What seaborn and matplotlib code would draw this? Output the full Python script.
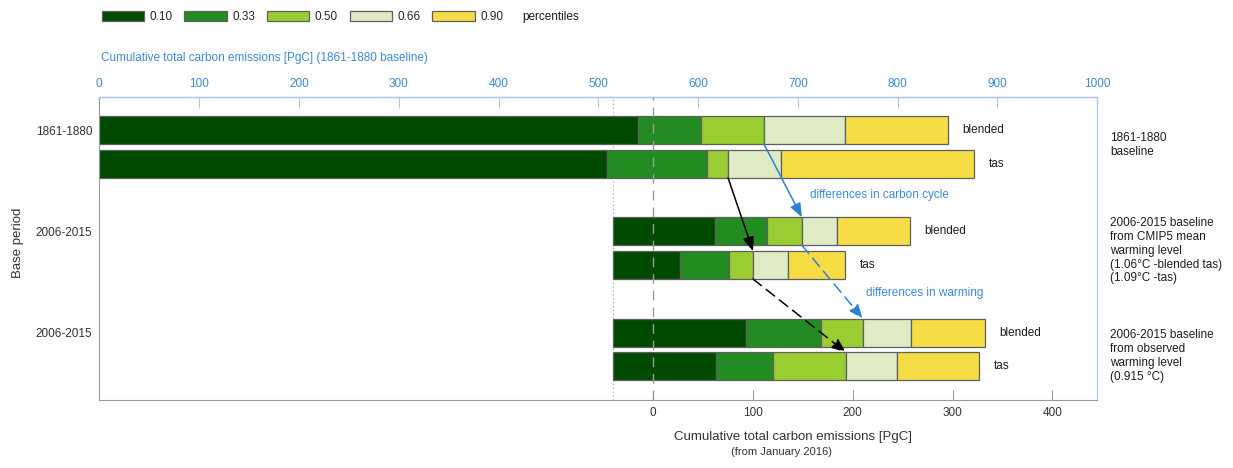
import numpy as np
import pandas as pd
import matplotlib
matplotlib.use("Agg")
import matplotlib.pyplot as plt
from matplotlib.patches import Patch
import seaborn as sns

# ---------------- data ----------------
percentile_labels = ["0.10", "0.33", "0.50", "0.66", "0.90"]
row_names = ["blended", "tas", "blended", "tas", "blended", "tas"]
base_labels = ["1861-1880", "2006-2015", "2006-2015"]
group_notes = [
    "1861-1880\nbaseline",
    "2006-2015 baseline\nfrom CMIP5 mean\nwarming level\n(1.06\u00b0C -blended tas)\n(1.09\u00b0C -tas)",
    "2006-2015 baseline\nfrom observed\nwarming level\n(0.915 \u00b0C)",
]
# bar starts and percentile values, PgC from January 2016
row_start = [-555, -555, -40, -40, -40, -40]
p10 = [-15, -46, 62, 27, 93, 63]
p33 = [48, 54, 114, 76, 168, 120]
p50 = [111, 75, 149, 100, 210, 193]
p66 = [192, 128, 184, 135, 258, 244]
p90 = [295, 321, 257, 192, 332, 326]
baseline_offset = 555  # 1861-1880 baseline axis = value from Jan 2016 + offset
top_ticks = list(range(0, 1001, 100))
bottom_ticks = [0, 100, 200, 300, 400]
note_texts = ["differences in carbon cycle", "differences in warming"]

# ---------------- style ----------------
sns.set_style("white")
plt.rcParams["font.family"] = ["Liberation Sans", "DejaVu Sans"]
plt.rcParams["font.size"] = 8.5

colors = ["#004a00", "#228b22", "#9acd32", "#deebc5", "#f6dc45"]
edge = "#5f5f5f"
blue_spine = "#a9c7ea"
blue_text = "#3d8ad6"
blue_arrow = "#2f80d0"
txt = "#1e1e1e"
grey = "#9a9a9a"

fig = plt.figure(figsize=(12.33, 4.68), dpi=100)
ax = fig.add_axes([0.08054, 0.14530, 0.80940, 0.64744])

ypos = np.array([0, 1, 3, 4, 6, 7])
bar_h = 0.83
bounds = [row_start, p10, p33, p50, p66, p90]
for k in range(5):
    left = np.array(bounds[k], dtype=float)
    right = np.array(bounds[k + 1], dtype=float)
    df = pd.DataFrame({"pos": ypos, "width": right - left})
    sns.barplot(data=df, x="width", y="pos", orient="y", native_scale=True,
                left=left, color=colors[k], edgecolor=edge, linewidth=0.9,
                width=bar_h, errorbar=None, saturation=1, ax=ax, zorder=2)

ax.set_xlim(-555, 445)
ax.set_ylim(8.0, -0.98)
ax.set_xlabel("")
ax.set_ylabel("")

# reference lines
ax.axvline(0, color=grey, lw=1.0, ls=(0, (7, 5)), zorder=5)
ax.axvline(row_start[2], color=grey, lw=0.8, ls=(0, (1, 2.5)), zorder=1)

# row labels
for i, name in enumerate(row_names):
    ax.annotate(name, xy=(p90[i], ypos[i]), xytext=(15, 0),
                textcoords="offset pixels", va="center", ha="left",
                color=txt, fontsize=8.5)

# group notes at right
for note, yv in zip(group_notes, [0.45, 3.58, 6.70]):
    ax.annotate(note, xy=(1.013, yv), xycoords=("axes fraction", "data"),
                va="center", ha="left", color=txt, fontsize=8.5,
                annotation_clip=False)

# arrows between medians
half = bar_h / 2
arrow_specs = [(0, 2, blue_arrow, "-"), (1, 3, "black", "-"),
               (2, 4, blue_arrow, (0, (7, 4))), (3, 5, "black", (0, (7, 4)))]
for a, b, c, ls in arrow_specs:
    ax.annotate("", xy=(p50[b], ypos[b] - half), xytext=(p50[a], ypos[a] + half),
                arrowprops=dict(arrowstyle="-|>,head_length=0.7,head_width=0.28",
                                color=c, lw=1.1, linestyle=ls,
                                shrinkA=0, shrinkB=0, mutation_scale=12),
                zorder=6)

ax.text(157, 1.93, note_texts[0], color=blue_text, va="center", ha="left", fontsize=8.5)
ax.text(213, 4.84, note_texts[1], color=blue_text, va="center", ha="left", fontsize=8.5)

# axes styling
ax.set_xticks(bottom_ticks)
ax.tick_params(axis="x", direction="in", length=7, width=0.8, color=grey,
               labelcolor="#333333", labelsize=8.5, pad=5, top=False, bottom=True)
ax.set_yticks([0, 3, 6])
ax.set_yticklabels(base_labels)
ax.tick_params(axis="y", length=0, pad=5, labelsize=8.5, labelcolor="#333333")
for s in ["left", "bottom"]:
    ax.spines[s].set_color(grey)
    ax.spines[s].set_linewidth(0.8)
for s in ["right", "top"]:
    ax.spines[s].set_color(blue_spine)
    ax.spines[s].set_linewidth(0.9)

secax = ax.secondary_xaxis("top", functions=(lambda x: x + baseline_offset,
                                             lambda x: x - baseline_offset))
secax.set_xticks(top_ticks)
secax.tick_params(direction="in", length=8, width=0.8, color=blue_spine,
                  labelcolor=blue_text, labelsize=8.5, pad=5)
secax.spines["top"].set_color(blue_spine)
secax.spines["top"].set_linewidth(0.9)

# axis titles
ax.annotate("Cumulative total carbon emissions [PgC] (1861-1880 baseline)",
            xy=(0.002, 1 - 58 / 468), xycoords=("axes fraction", "figure fraction"),
            ha="left", va="center", color=blue_text, fontsize=8.5, annotation_clip=False)
ax.annotate("Cumulative total carbon emissions [PgC]",
            xy=(140, 1 - 437 / 468), xycoords=("data", "figure fraction"),
            ha="center", va="center", color="#333333", fontsize=9.5, annotation_clip=False)
ax.annotate("(from January 2016)",
            xy=(129, 1 - 452 / 468), xycoords=("data", "figure fraction"),
            ha="center", va="center", color="#333333", fontsize=8, annotation_clip=False)
fig.text(18 / 1233, 1 - 243 / 468, "Base period", rotation=90, ha="center",
         va="center", color="#333333", fontsize=9.5)

# legend
handles = [Patch(facecolor=c, edgecolor=edge, linewidth=0.9, label=l)
           for c, l in zip(colors, percentile_labels)]
fig.legend(handles=handles, loc="center left",
           bbox_to_anchor=(101.7 / 1233, 1 - 17 / 468), ncol=5, frameon=False,
           fontsize=8.5, handlelength=3.6, handleheight=0.95, handletextpad=0.45,
           columnspacing=1.0, borderpad=0, borderaxespad=0)
fig.text(522 / 1233, 1 - 17 / 468, "percentiles", ha="left", va="center",
         color=txt, fontsize=8.5)

fig.savefig("out.png", dpi=100)
